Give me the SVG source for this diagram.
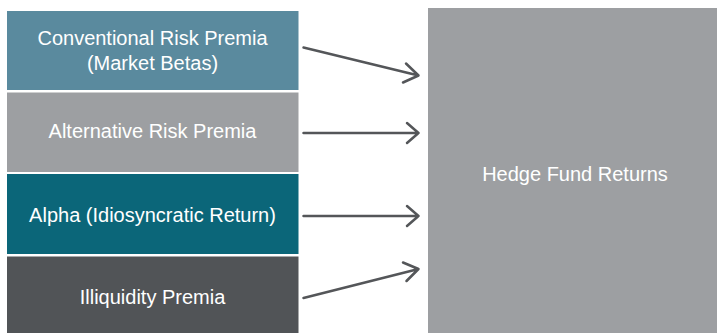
<svg xmlns="http://www.w3.org/2000/svg" width="717" height="333" viewBox="0 0 717 333">
<style>
.lbl{font-family:"Liberation Sans","Noto Sans",sans-serif;font-size:20px;fill:#ffffff;text-anchor:middle}
.arr{fill:none;stroke:#545659;stroke-width:2.5;stroke-linecap:round;stroke-linejoin:round}
</style>
<rect width="717" height="333" fill="#ffffff"/>
<g id="conventional">
<rect x="7" y="11" width="291.5" height="79" fill="#5a8a9e"/>
<text class="lbl" x="152.5" y="45">Conventional Risk Premia</text>
<text class="lbl" x="152.5" y="70">(Market Betas)</text>
</g>
<g id="alternative">
<rect x="7" y="92.5" width="291.5" height="79.5" fill="#9d9fa2"/>
<text class="lbl" x="152.5" y="138">Alternative Risk Premia</text>
</g>
<g id="alpha">
<rect x="7" y="174" width="291.5" height="80" fill="#0b6679"/>
<text class="lbl" x="152.5" y="222">Alpha (Idiosyncratic Return)</text>
</g>
<g id="illiquidity">
<rect x="7" y="256.5" width="291.5" height="76.5" fill="#515457"/>
<text class="lbl" x="152.5" y="304">Illiquidity Premia</text>
</g>
<g id="hedge">
<rect x="428" y="8" width="289" height="325" fill="#9d9fa2"/>
<text class="lbl" x="575" y="181">Hedge Fund Returns</text>
</g>
<g id="connectors">
<path class="arr" d="M303.5 47.5 L418.5 75.5 M406 63.5 L418.5 75.5 L403 82.5"/>
<path class="arr" d="M303.5 133 L418.5 133 M407 123 L418.5 133 L407 143"/>
<path class="arr" d="M303.5 216 L418.5 216 M407 206 L418.5 216 L407 226"/>
<path class="arr" d="M303.5 298 L418.5 269 M403 262.5 L418.5 269 L406.5 281"/>
</g>
</svg>
